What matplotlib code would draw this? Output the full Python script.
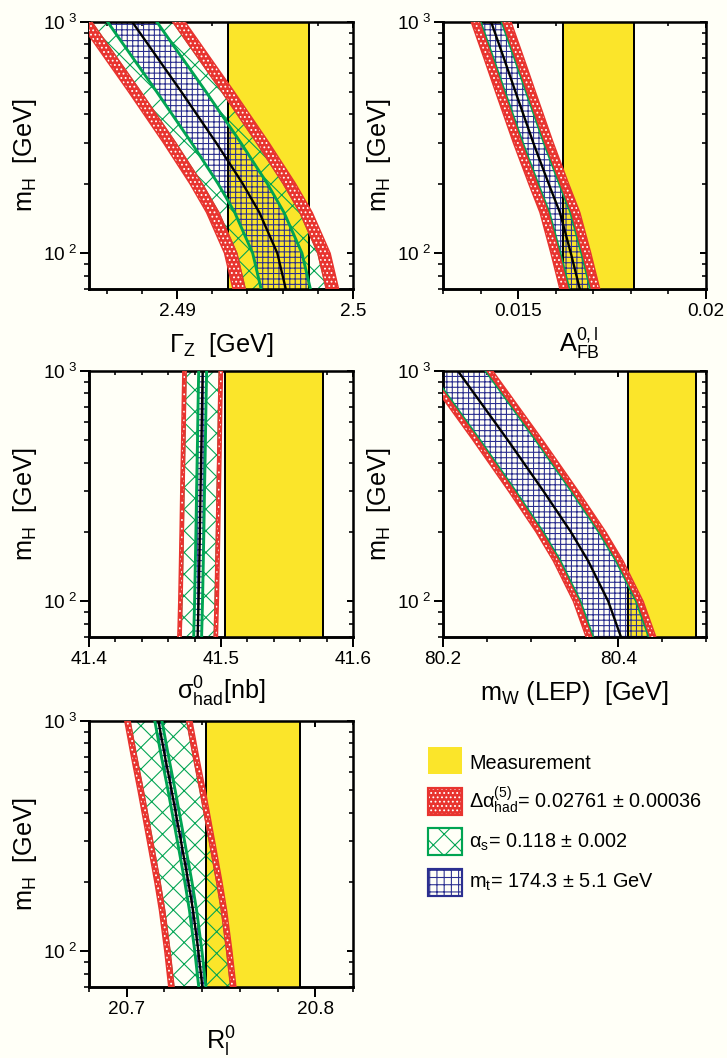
import numpy as np
import matplotlib
matplotlib.use('Agg')
import matplotlib.pyplot as plt
from matplotlib.ticker import FixedLocator, MultipleLocator, LogLocator, NullFormatter
from matplotlib.patches import Rectangle

plt.rcParams['font.family'] = ['Liberation Sans', 'DejaVu Sans']
plt.rcParams['mathtext.fontset'] = 'custom'
plt.rcParams['mathtext.rm'] = 'Liberation Sans'
plt.rcParams['mathtext.it'] = 'Liberation Sans:italic'
plt.rcParams['mathtext.bf'] = 'Liberation Sans:bold'
plt.rcParams['mathtext.default'] = 'regular'
plt.rcParams['hatch.linewidth'] = 0.6

mh = [70, 100, 150, 200, 300, 500, 700, 1000]

# Gamma_Z [GeV]: central SM curve, half widths (mt, +alpha_s, +delta alpha), measurement
gz_fit = [2.49618, 2.49570, 2.49468, 2.49373, 2.49223, 2.49024, 2.48889, 2.48746]
gz_widths = [0.0014, 0.0023, 0.0030]
gz_meas = [2.4952, 0.0023]

# A_FB^{0,l}
afb_fit = [0.016641, 0.016403, 0.016111, 0.015811, 0.015404, 0.014927, 0.014617, 0.014282]
afb_widths = [0.00029, 0.00031, 0.00053]
afb_meas = [0.01714, 0.00095]

# sigma_had^0 [nb]
sig_fit = [41.4823, 41.4830, 41.4836, 41.4840, 41.4845, 41.4852, 41.4856, 41.4861]
sig_widths = [0.003, 0.0125, 0.015]
sig_meas = [41.540, 0.037]

# m_W (LEP) [GeV]
mw_fit = [80.4030, 80.3885, 80.3655, 80.3459, 80.3148, 80.2741, 80.2464, 80.2170]
mw_widths = [0.0322, 0.0332, 0.0398]
mw_meas = [80.450, 0.039]

# R_l^0
rl_fit = [20.7401, 20.7380, 20.7352, 20.7327, 20.7288, 20.7238, 20.7203, 20.7168]
rl_widths = [0.0019, 0.0150, 0.0178]
rl_meas = [20.767, 0.025]

legend_labels = ['Measurement',
                 r'$\Delta\alpha^{(5)}_{had}$= 0.02761 ± 0.00036',
                 r'$\alpha_s$= 0.118 ± 0.002',
                 r'$m_t$= 174.3 ± 5.1 GeV']

BG = '#fffff7'
YELLOW = '#fbe52a'
RED = '#e8342f'
GREEN = '#00a452'
BLUE = '#2b2f90'

W, H, DPI = 727, 1058, 130
fig = plt.figure(figsize=(W / DPI, H / DPI), dpi=DPI, facecolor=BG)


def box(l, t, r, b):
    return [l / W, 1 - b / H, (r - l) / W, (b - t) / H]


def panel(rect, fit, widths, meas, xlim, xticks, xticklabels, minor, xlabel, lab_x):
    ax = fig.add_axes(rect)
    ax.set_facecolor(BG)
    ax.set_yscale('log')
    ax.set_xlim(*xlim)
    ax.set_ylim(70, 1000)
    ax.set_axisbelow(True)

    c = np.array(fit)
    w_mt, w_as, w_da = widths
    lo, hi = meas[0] - meas[1], meas[0] + meas[1]

    ax.axvspan(lo, hi, facecolor=YELLOW, lw=0, zorder=1)
    for a, b in [(c - w_as, c - w_mt), (c + w_mt, c + w_as)]:
        ax.fill_betweenx(mh, a, b, facecolor='none', edgecolor=GREEN, hatch='xx', lw=0, zorder=2)
    ax.fill_betweenx(mh, c - w_mt, c + w_mt, facecolor='none', edgecolor=BLUE, hatch='++++', lw=0, zorder=2)
    ax.axvline(lo, color='k', lw=1.1, zorder=3)
    ax.axvline(hi, color='k', lw=1.1, zorder=3)
    for s in (-1, 1):
        ax.plot(c + s * w_mt, mh, color=GREEN, lw=1.6, zorder=4)
        ax.plot(c + s * w_as, mh, color=GREEN, lw=0.6, zorder=4)
        ax.fill_betweenx(mh, c + s * w_as, c + s * w_da, facecolor=RED, edgecolor='white',
                         hatch='.....', lw=0, zorder=5)
        ax.plot(c + s * w_as, mh, color=RED, lw=0.8, zorder=5)
        ax.plot(c + s * w_da, mh, color=RED, lw=0.8, zorder=5)
    ax.plot(c, mh, color='k', lw=1.3, zorder=6)

    # top / right: inward ticks, hidden under the bands
    ax.xaxis.set_major_locator(FixedLocator(xticks))
    ax.xaxis.set_minor_locator(MultipleLocator(minor))
    ax.yaxis.set_major_locator(FixedLocator([100, 1000]))
    ax.yaxis.set_minor_locator(LogLocator(subs=np.arange(2, 10)))
    ax.yaxis.set_minor_formatter(NullFormatter())
    ax.tick_params(which='both', direction='in', top=True, right=True, bottom=False, left=False,
                   labelbottom=False, labelleft=False, labeltop=False, labelright=False)
    ax.tick_params(which='major', length=3.3, width=1.1)
    ax.tick_params(which='minor', length=2.2, width=0.9)
    for sp in ax.spines.values():
        sp.set_linewidth(1.4)

    # bottom / left: outward ticks with labels
    sx = ax.secondary_xaxis('bottom')
    sx.set_ticks(xticks, labels=xticklabels)
    sx.xaxis.set_minor_locator(MultipleLocator(minor))
    sx.tick_params(which='both', direction='out', labelsize=10.5, pad=2.5)
    sx.tick_params(which='major', length=5.3, width=1.1)
    sx.tick_params(which='minor', length=2.8, width=0.9)
    sx.spines['bottom'].set_linewidth(1.4)

    sy = ax.secondary_yaxis('left')
    sy.set_ticks([100, 1000], labels=[r'$10^{\ 2}$', r'$10^{\ 3}$'])
    sy.yaxis.set_minor_locator(LogLocator(subs=np.arange(2, 10)))
    sy.yaxis.set_minor_formatter(NullFormatter())
    sy.tick_params(which='both', direction='out', labelsize=10.5, pad=2)
    sy.tick_params(which='major', length=5.0, width=1.1)
    sy.tick_params(which='minor', length=2.5, width=0.9)
    sy.spines['left'].set_linewidth(1.4)

    ax.set_xlabel(xlabel, fontsize=14, va='baseline')
    ax.xaxis.set_label_coords(lab_x, -0.236)
    ax.set_ylabel(r'$m_H$  [GeV]', fontsize=14)
    ax.yaxis.set_label_coords(-0.19, 0.5)
    return ax


panel(box(89, 22, 353, 289), gz_fit, gz_widths, gz_meas, (2.485, 2.5),
      [2.49, 2.5], ['2.49', '2.5'], 0.002, r'$\Gamma_Z$  [GeV]', 0.5)
panel(box(443, 22, 706, 289), afb_fit, afb_widths, afb_meas, (0.013, 0.02),
      [0.015, 0.02], ['0.015', '0.02'], 0.001, r'$A^{0,l}_{FB}$', 0.52)
panel(box(89, 371, 353, 637), sig_fit, sig_widths, sig_meas, (41.4, 41.6),
      [41.4, 41.5, 41.6], ['41.4', '41.5', '41.6'], 0.02, r'$\sigma^{0}_{had}$[nb]', 0.5)
panel(box(443, 371, 706, 637), mw_fit, mw_widths, mw_meas, (80.2, 80.5),
      [80.2, 80.4], ['80.2', '80.4'], 0.05, r'$m_W$ (LEP)  [GeV]', 0.5)
panel(box(89, 721, 353, 987), rl_fit, rl_widths, rl_meas, (20.68, 20.82),
      [20.7, 20.8], ['20.7', '20.8'], 0.02, r'$R^{0}_{l}$', 0.5)

# legend in the free slot, laid out in figure pixels
lg = fig.add_axes([0, 0, 1, 1])
lg.set_xlim(0, W)
lg.set_ylim(H, 0)
lg.axis('off')
row_top = [747, 788, 828, 869]
row_base = [769, 808, 848, 888]
lg.add_patch(Rectangle((428, row_top[0]), 34, 27, facecolor=YELLOW, lw=0))
lg.add_patch(Rectangle((428, row_top[1]), 34, 27, facecolor=RED, edgecolor='white', hatch='.....', lw=0))
lg.add_patch(Rectangle((428, row_top[1]), 34, 27, fill=False, edgecolor=RED, lw=1.2))
lg.add_patch(Rectangle((428, row_top[2]), 34, 27, facecolor=BG, edgecolor=GREEN, hatch='xx', lw=0))
lg.add_patch(Rectangle((428, row_top[2]), 34, 27, fill=False, edgecolor=GREEN, lw=1.2))
lg.add_patch(Rectangle((428, row_top[3]), 34, 27, facecolor=BG, edgecolor=BLUE, hatch='+++', lw=0))
lg.add_patch(Rectangle((428, row_top[3]), 34, 27, fill=False, edgecolor=BLUE, lw=1.2))
for lab, yb in zip(legend_labels, row_base):
    lg.text(469, yb, lab, fontsize=11, va='baseline', ha='left')

fig.savefig('out.png', dpi=DPI, facecolor=BG)
